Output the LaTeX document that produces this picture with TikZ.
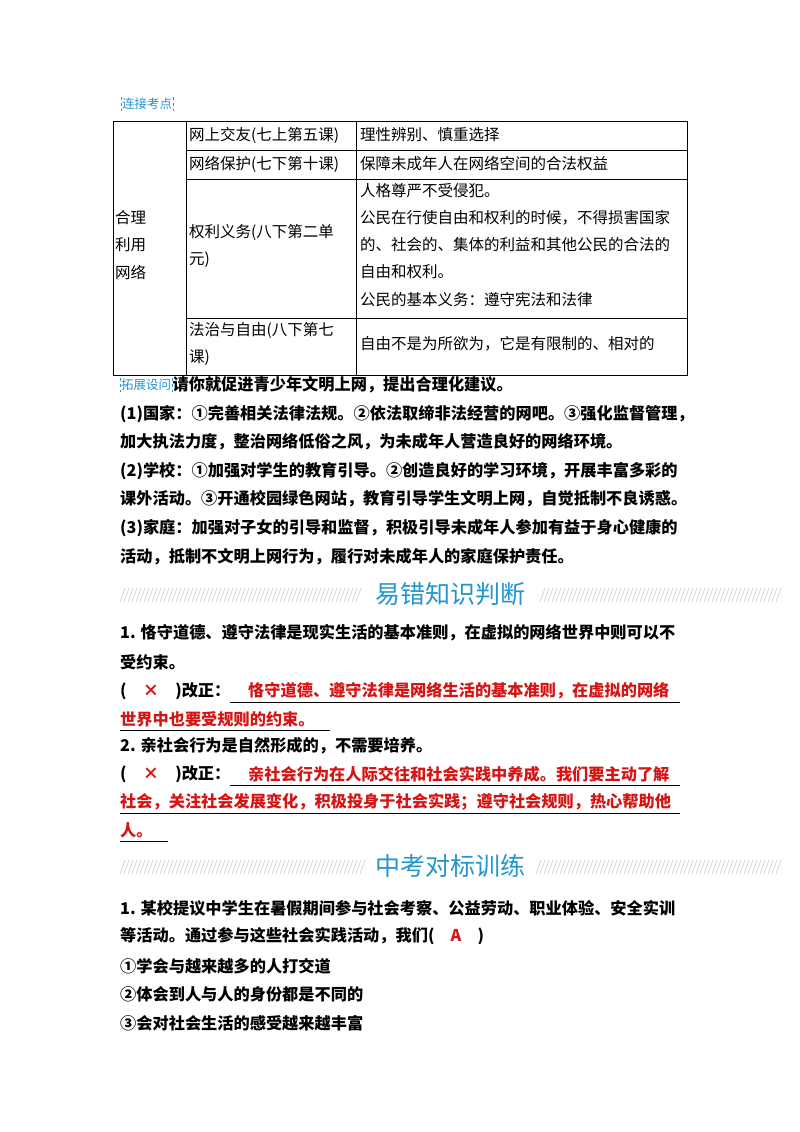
\documentclass[tikz,border=0pt]{standalone}
\usepackage{fontspec}
\setmainfont{Noto Sans CJK SC}
\definecolor{hblue}{RGB}{35,150,205}
\definecolor{ans}{RGB}{215,20,20}
\tikzset{
  txt/.style={anchor=west, inner sep=0, font=\fontsize{16.2}{16}\selectfont\bfseries},
  cell/.style={anchor=west, inner sep=0, font=\fontsize{15.5}{15}\selectfont},
  red txt/.style={txt, text=ans},
  tag/.style={anchor=west, inner sep=1pt, text=hblue, font=\fontsize{12.5}{12}\selectfont},
  heading/.style={inner sep=0, text=hblue, font=\fontsize{25}{25}\selectfont},
  hatch/.style={gray!45, line width=0.5pt}
}
\newcommand{\hatchrow}[3]{\foreach \hi in {0,...,#2} {\draw[hatch] (#1+4*\hi,#3+7) -- (#1+4*\hi+5,#3-7);}}
\begin{document}
\begin{tikzpicture}[x=1pt,y=-1pt]
  \useasboundingbox[fill=white] (0,0) rectangle (800,1132);
  % connection tag
  \node[tag] (tagA) at (121,104) {连接考点};
  \draw[hblue, dashed, line width=0.4pt] (tagA.north west) -- (tagA.south west) (tagA.north east) -- (tagA.south east);
  % table
  \draw[line width=0.8pt] (113,121) rectangle (687,375);
  \draw[line width=0.8pt] (186,121) -- (186,375) (356,121) -- (356,375);
  \draw[line width=0.8pt] (186,150) -- (687,150) (186,179) -- (687,179) (186,318) -- (687,318);
  \node[cell] (c1) at (115,218) {合理};
  \node[cell] (c2) at (115,245) {利用};
  \node[cell] (c3) at (115,272) {网络};
  \node[cell] (r1a) at (189,135) {网上交友(七上第五课)};
  \node[cell] (r1b) at (360,135) {理性辨别、慎重选择};
  \node[cell] (r2a) at (189,164) {网络保护(七下第十课)};
  \node[cell] (r2b) at (360,164) {保障未成年人在网络空间的合法权益};
  \node[cell] (r3a) at (189,232) {权利义务(八下第二单};
  \node[cell] (r3a2) at (189,260) {元)};
  \node[cell] (r3b) at (360,191) {人格尊严不受侵犯。};
  \node[cell] (r3c) at (360,218) {公民在行使自由和权利的时候，不得损害国家};
  \node[cell] (r3d) at (360,245) {的、社会的、集体的利益和其他公民的合法的};
  \node[cell] (r3e) at (360,272) {自由和权利。};
  \node[cell] (r3f) at (360,300) {公民的基本义务：遵守宪法和法律};
  \node[cell] (r4a) at (189,330) {法治与自由(八下第七};
  \node[cell] (r4a2) at (189,358) {课)};
  \node[cell] (r4b) at (360,344) {自由不是为所欲为，它是有限制的、相对的};
  % extension question
  \node[tag] (tagB) at (120,385) {拓展设问};
  \draw[hblue, dashed, line width=0.4pt] (tagB.north west) -- (tagB.south west) (tagB.north east) -- (tagB.south east);
  \node[txt] (q0) at (tagB.east) {请你就促进青少年文明上网，提出合理化建议。};
  \node[txt] (q1) at (120,414) {(1)国家：①完善相关法律法规。②依法取缔非法经营的网吧。③强化监督管理，};
  \node[txt] (q2) at (120,442) {加大执法力度，整治网络低俗之风，为未成年人营造良好的网络环境。};
  \node[txt] (q3) at (120,471) {(2)学校：①加强对学生的教育引导。②创造良好的学习环境，开展丰富多彩的};
  \node[txt] (q4) at (120,499) {课外活动。③开通校园绿色网站，教育引导学生文明上网，自觉抵制不良诱惑。};
  \node[txt] (q5) at (120,528) {(3)家庭：加强对子女的引导和监督，积极引导未成年人参加有益于身心健康的};
  \node[txt] (q6) at (120,557) {活动，抵制不文明上网行为，履行对未成年人的家庭保护责任。};
  % heading 1
  \hatchrow{120}{59}{595}
  \hatchrow{540}{59}{595}
  \node[heading] (h1) at (450,594) {易错知识判断};
  \node[txt] (a1) at (120,633) {1. 恪守道德、遵守法律是现实生活的基本准则，在虚拟的网络世界中则可以不};
  \node[txt] (a2) at (120,662) {受约束。};
  \node[txt] (a3) at (120,691) {(\quad\textcolor{ans}{×}\quad)改正：};
  \node[red txt] (a4) at (248,691) {恪守道德、遵守法律是网络生活的基本准则，在虚拟的网络};
  \node[red txt] (a5) at (120,719) {世界中也要受规则的约束。};
  \draw[line width=0.8pt] (230,702) -- (680,702) (120,730) -- (330,730);
  \node[txt] (b1) at (120,746) {2. 亲社会行为是自然形成的，不需要培养。};
  \node[txt] (b2) at (120,774) {(\quad\textcolor{ans}{×}\quad)改正：};
  \node[red txt] (b3) at (248,774) {亲社会行为在人际交往和社会实践中养成。我们要主动了解};
  \node[red txt] (b4) at (120,802) {社会，关注社会发展变化，积极投身于社会实践；遵守社会规则，热心帮助他};
  \node[red txt] (b5) at (120,830) {人。};
  \draw[line width=0.8pt] (230,785) -- (680,785) (120,813) -- (680,813) (120,841) -- (168,841);
  % heading 2
  \hatchrow{120}{60}{867}
  \hatchrow{536}{60}{867}
  \node[heading] (h2) at (450,866) {中考对标训练};
  \node[txt] (t1) at (120,908) {1. 某校提议中学生在暑假期间参与社会考察、公益劳动、职业体验、安全实训};
  \node[txt] (t2) at (120,936) {等活动。通过参与这些社会实践活动，我们(\quad\textcolor{ans}{A}\quad)};
  \node[txt] (t3) at (120,966) {①学会与越来越多的人打交道};
  \node[txt] (t4) at (120,994) {②体会到人与人的身份都是不同的};
  \node[txt] (t5) at (120,1023) {③会对社会生活的感受越来越丰富};
\end{tikzpicture}
\end{document}
